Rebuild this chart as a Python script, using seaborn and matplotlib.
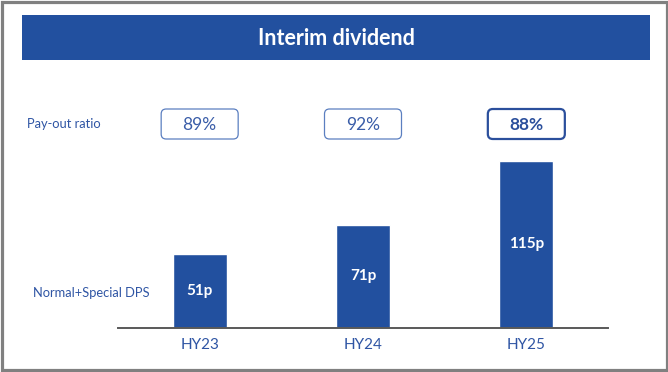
import matplotlib
matplotlib.use("Agg")
import matplotlib.pyplot as plt
from matplotlib.patches import Rectangle, FancyBboxPatch
import seaborn as sns

periods = ["HY23", "HY24", "HY25"]
dps = [51, 71, 115]
dps_labels = ["51p", "71p", "115p"]
payout = ["89%", "92%", "88%"]
highlight = [False, False, True]

BLUE = "#22509f"
TEXT_BLUE = "#2f55a4"

sns.set_theme(style="white")
plt.rcParams["font.family"] = ["Lato", "DejaVu Sans"]

W, H = 668, 372
fig = plt.figure(figsize=(W / 100, H / 100), dpi=100)
fig.patch.set_facecolor("white")

# background axes in pixel coordinates (y down)
bg = fig.add_axes([0, 0, 1, 1])
bg.set_xlim(0, W)
bg.set_ylim(H, 0)
bg.axis("off")

# grey outer frame
bg.add_patch(Rectangle((1.5, 1.5), W - 3, H - 3.5, fill=False,
                       edgecolor="#808080", linewidth=2.3))

# title banner
bg.add_patch(Rectangle((22, 15), 628, 45, facecolor=BLUE, edgecolor="none"))
bg.text(336, 38.5, "Interim dividend", color="white", fontsize=15.5,
        fontweight="bold", ha="center", va="center")

# row labels
bg.text(27, 124, "Pay-out ratio", color=TEXT_BLUE, fontsize=9.3, ha="left", va="center")
bg.text(33, 293, "Normal+Special DPS", color=TEXT_BLUE, fontsize=9.3, ha="left", va="center")

# bar chart
base_px, top_px = 328, 150
ax = fig.add_axes([118 / W, (H - base_px) / H, 490 / W, (base_px - top_px) / H])
ax.patch.set_alpha(0)
sns.barplot(x=periods, y=dps, color=BLUE, saturation=1, width=0.33, ax=ax)
ax.set_xlim(-0.5, 2.5)
ax.set_ylim(0, (base_px - top_px) / 1.455)
for s in ["top", "left", "right"]:
    ax.spines[s].set_visible(False)
ax.spines["bottom"].set_color("#595959")
ax.spines["bottom"].set_linewidth(1.4)
ax.set_yticks([])
ax.set_xlabel("")
ax.set_ylabel("")
ax.tick_params(axis="x", length=0, pad=7, labelsize=11, labelcolor=TEXT_BLUE)

for i, (v, lab) in enumerate(zip(dps, dps_labels)):
    ax.text(i, v / 2, lab, color="white", fontsize=11, fontweight="bold",
            ha="center", va="center")

# pay-out ratio boxes, aligned to bar centres
fig.canvas.draw()
for i, (txt, hl) in enumerate(zip(payout, highlight)):
    xd = fig.transFigure.inverted().transform(ax.transData.transform((i, 0)))[0] * W
    bw, bh = 77, 30
    bg.add_patch(FancyBboxPatch((xd - bw / 2, 124 - bh / 2), bw, bh,
                                boxstyle="round,pad=0,rounding_size=5",
                                facecolor="white",
                                edgecolor="#2b4f9c" if hl else "#5b7fc0",
                                linewidth=1.6 if hl else 0.9))
    bg.text(xd, 124.5, txt, color="#2b4f9c" if hl else "#3a5da8", fontsize=12.5,
            fontweight="bold" if hl else "normal", ha="center", va="center")

fig.savefig("out.png", dpi=100)
